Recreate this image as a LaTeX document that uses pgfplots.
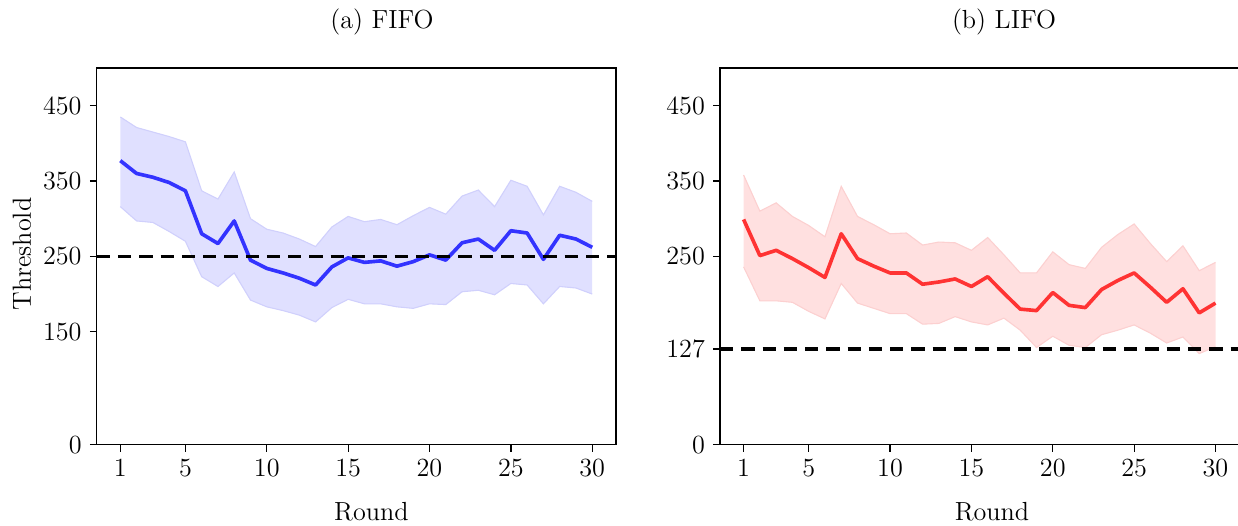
\documentclass[border=0pt]{standalone}
\usepackage{pgfplots}
\pgfplotsset{compat=1.18}
\usepackage{pgfplotstable}
\usepgfplotslibrary{fillbetween}

\definecolor{fifoline}{RGB}{51,51,255}
\definecolor{fifofill}{RGB}{224,224,255}
\definecolor{fifoedge}{RGB}{208,208,252}
\definecolor{lifoline}{RGB}{255,51,51}
\definecolor{lifofill}{RGB}{255,224,224}
\definecolor{lifoedge}{RGB}{252,208,208}

% round, mean, lower, upper
\pgfplotstableread{
r m lo hi
1 377 316 435
2 360 297 421
3 355 295 415
4 348 283 409
5 337 270 402
6 280 223 337
7 267 210 326
8 297 228 362
9 245 192 300
10 234 183 286
11 228 178 281
12 221 172 273
13 212 163 263
14 236 182 289
15 248 193 303
16 242 187 296
17 244 187 299
18 237 183 292
19 243 181 304
20 252 187 315
21 245 186 306
22 268 203 330
23 273 205 338
24 258 199 316
25 284 214 351
26 281 212 343
27 246 187 305
28 278 210 343
29 273 208 335
30 262 200 323
}\fifo

\pgfplotstableread{
r m lo hi
1 299 236 358
2 251 191 310
3 258 191 321
4 247 189 303
5 235 177 291
6 222 167 276
7 280 214 343
8 247 188 303
9 237 181 292
10 228 174 280
11 228 174 281
12 213 160 265
13 216 161 269
14 220 170 268
15 210 163 258
16 223 159 275
17 201 168 252
18 180 152 228
19 178 129 228
20 202 144 256
21 185 132 239
22 182 129 234
23 206 146 262
24 218 152 279
25 228 159 293
26 209 148 267
27 189 135 243
28 207 143 264
29 175 121 231
30 188 130 242
}\lifo

\pgfplotsset{
  panel/.style={
    scale only axis,
    width=285.5pt, height=207.2pt,
    xmin=-0.45, xmax=31.45,
    ymin=0, ymax=500,
    xtick={1,5,10,15,20,25,30},
    tick align=outside,
    tick pos=left,
    major tick length=3.8pt,
    axis line style={line width=0.8pt},
    every tick/.append style={black, line width=0.7pt},
    tick label style={font=\Large},
    yticklabel style={xshift=-1pt},
    xticklabel style={yshift=-1pt},
  },
}

\begin{document}
\begin{tikzpicture}
\begin{axis}[panel, at={(0,0)}, anchor=south west,
  ytick={0,150,250,350,450}]
\addplot[name path=hi, fifoedge, line width=0.6pt] table[x=r, y=hi] {\fifo};
\addplot[name path=lo, fifoedge, line width=0.6pt] table[x=r, y=lo] {\fifo};
\addplot[fifofill] fill between[of=hi and lo];
\addplot[fifoline, line width=2pt, line join=round] table[x=r, y=m] {\fifo};
\addplot[black, line width=2pt, dash pattern=on 7.3pt off 4.4pt] coordinates {(-0.45,250) (31.45,250)};
\end{axis}

\begin{axis}[panel, at={(342.8pt,0)}, anchor=south west,
  ytick={0,127,250,350,450}]
\addplot[name path=hi, lifoedge, line width=0.6pt] table[x=r, y=hi] {\lifo};
\addplot[name path=lo, lifoedge, line width=0.6pt] table[x=r, y=lo] {\lifo};
\addplot[lifofill] fill between[of=hi and lo];
\addplot[lifoline, line width=2pt, line join=round] table[x=r, y=m] {\lifo};
\addplot[black, line width=2pt, dash pattern=on 7.3pt off 4.4pt] coordinates {(-0.45,127) (31.45,127)};
\end{axis}

\node[font=\Large] at (156.9pt,232.5pt) {(a) FIFO};
\node[font=\Large] at (499pt,232.5pt) {(b) LIFO};
\node[font=\Large] at (151.1pt,-36.7pt) {Round};
\node[font=\Large] at (492.4pt,-36.7pt) {Round};
\node[font=\Large, rotate=90] at (-41.1pt,104.9pt) {Threshold};

\pgfresetboundingbox
\path[use as bounding box] (-53.2pt,-44.2pt) rectangle (627.7pt,244.6pt);
\end{tikzpicture}
\end{document}
